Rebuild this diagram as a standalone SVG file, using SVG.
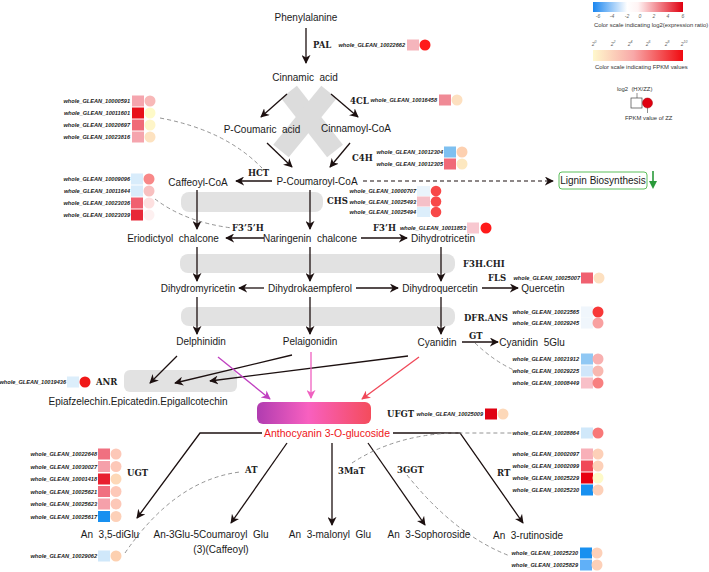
<svg xmlns="http://www.w3.org/2000/svg" width="709" height="572" viewBox="0 0 709 572">
<defs>
<style>
.t{font-family:"Liberation Sans",Arial,sans-serif;font-size:10px;fill:#1a1a1a;text-anchor:middle;dominant-baseline:central;white-space:pre}
.e{font-family:"DejaVu Serif",serif;font-weight:bold;font-size:8.5px;fill:#222;dominant-baseline:central}
.g{font-family:"Liberation Sans",Arial,sans-serif;font-weight:bold;font-style:italic;font-size:5.6px;fill:#222;text-anchor:end;dominant-baseline:central}
.lg{font-family:"Liberation Sans",Arial,sans-serif;font-size:5.9px;fill:#333;dominant-baseline:central;white-space:pre}
.tk{font-family:"Liberation Sans",Arial,sans-serif;font-style:italic;font-size:5px;fill:#666;text-anchor:middle;dominant-baseline:central}
.a{fill:none;stroke:#1c1010;stroke-width:1.3;marker-end:url(#ah)}
.d{fill:none;stroke:#888;stroke-width:0.9;stroke-dasharray:4 3}
.band{fill:#e2e2e2}
</style>
<marker id="ah" viewBox="0 0 10 10" refX="9" refY="5" markerWidth="9" markerHeight="9" markerUnits="userSpaceOnUse" orient="auto"><path d="M0,0 L10,5 L0,10 L3,5 Z" fill="#1c1010"/></marker>
<marker id="ahm" viewBox="0 0 10 10" refX="9" refY="5" markerWidth="9" markerHeight="9" markerUnits="userSpaceOnUse" orient="auto"><path d="M0,0 L10,5 L0,10 L3,5 Z" fill="#c040c0"/></marker>
<marker id="ahp" viewBox="0 0 10 10" refX="9" refY="5" markerWidth="9" markerHeight="9" markerUnits="userSpaceOnUse" orient="auto"><path d="M0,0 L10,5 L0,10 L3,5 Z" fill="#f060c0"/></marker>
<marker id="ahr" viewBox="0 0 10 10" refX="9" refY="5" markerWidth="9" markerHeight="9" markerUnits="userSpaceOnUse" orient="auto"><path d="M0,0 L10,5 L0,10 L3,5 Z" fill="#f04858"/></marker>
<linearGradient id="gl" x1="0" x2="1" y1="0" y2="0"><stop offset="0" stop-color="#1a86f0"/><stop offset="0.38" stop-color="#ffffff"/><stop offset="0.5" stop-color="#fff4f4"/><stop offset="1" stop-color="#e00010"/></linearGradient>
<linearGradient id="gf" x1="0" x2="1" y1="0" y2="0"><stop offset="0" stop-color="#fff8cc"/><stop offset="0.45" stop-color="#f8a8a8"/><stop offset="1" stop-color="#f00a10"/></linearGradient>
<linearGradient id="ga" x1="0" x2="1" y1="0" y2="0"><stop offset="0" stop-color="#b03cb0"/><stop offset="0.45" stop-color="#f860c0"/><stop offset="1" stop-color="#f44c5c"/></linearGradient>
</defs>
<rect width="709" height="572" fill="#ffffff"/>

<!-- background bands -->
<g id="bands">
<line x1="289" y1="92" x2="335" y2="151" stroke="#dcdcdc" stroke-width="20"/>
<line x1="329" y1="92" x2="281" y2="151" stroke="#dcdcdc" stroke-width="20"/>
<rect class="band" x="181" y="192" width="142" height="20" rx="8"/>
<rect class="band" x="180" y="254" width="275" height="19" rx="8"/>
<rect class="band" x="181" y="307" width="274" height="19" rx="8"/>
<rect class="band" x="124" y="370" width="113" height="22" rx="6"/>
<rect id="anthobar" x="257" y="402" width="114" height="22" rx="6" fill="url(#ga)"/>
</g>

<!-- connectors -->
<g id="connectors">
<line class="a" x1="306" y1="28" x2="306" y2="63"/>
<line class="a" x1="287" y1="94" x2="261" y2="117"/>
<line class="a" x1="331" y1="94" x2="358" y2="117"/>
<line class="a" x1="267" y1="143" x2="292" y2="167"/>
<line class="a" x1="350" y1="143" x2="330" y2="167"/>
<line class="a" x1="272" y1="181" x2="236" y2="181"/>
<line x1="363" y1="181" x2="553" y2="181" stroke="#1c1010" stroke-width="1.1" stroke-dasharray="4 3" marker-end="url(#ah)"/>
<line class="a" x1="310" y1="190" x2="310" y2="229"/>
<line class="a" x1="197" y1="190" x2="197" y2="229"/>
<line class="a" x1="264" y1="238" x2="226" y2="238"/>
<line class="a" x1="361" y1="238" x2="407" y2="238"/>
<line class="a" x1="197" y1="247" x2="197" y2="281"/>
<line class="a" x1="310" y1="247" x2="310" y2="281"/>
<line class="a" x1="441" y1="247" x2="441" y2="281"/>
<line class="a" x1="264" y1="288" x2="239" y2="288"/>
<line class="a" x1="356" y1="288" x2="398" y2="288"/>
<line class="a" x1="482" y1="288" x2="518" y2="288"/>
<line class="a" x1="197" y1="297" x2="197" y2="334"/>
<line class="a" x1="310" y1="297" x2="310" y2="334"/>
<line class="a" x1="441" y1="297" x2="441" y2="334"/>
<line class="a" x1="462" y1="342" x2="498" y2="342"/>
<line class="a" x1="177" y1="356" x2="150" y2="383"/>
<line class="a" x1="292" y1="355" x2="175" y2="383"/>
<line class="a" x1="408" y1="356" x2="210" y2="381"/>
<line x1="218" y1="357" x2="270" y2="399" stroke="#c040c0" stroke-width="1.3" marker-end="url(#ahm)"/>
<line x1="311" y1="352" x2="311" y2="398" stroke="#f060c0" stroke-width="1.3" marker-end="url(#ahp)"/>
<line x1="419" y1="357" x2="362" y2="399" stroke="#f04858" stroke-width="1.3" marker-end="url(#ahr)"/>
<polyline class="a" points="262,433 200,433 137,518"/>
<polyline class="a" points="393,433 460,433 523,523"/>
<line class="a" x1="287" y1="443" x2="231" y2="523"/>
<line class="a" x1="332" y1="443" x2="332" y2="525"/>
<line class="a" x1="368" y1="443" x2="425" y2="525"/>
<path class="d" d="M160,118 Q225,130 262,168"/>
<path class="d" d="M155,199 Q185,222 232,228"/>
<path class="d" d="M475,343 Q495,362 516,371"/>
<path class="d" d="M125,553 Q175,480 240,472"/>
<path class="d" d="M352,463 Q395,435 453,433 L512,433"/>
<path class="d" d="M407,475 Q455,535 510,556"/>
<line x1="653" y1="171" x2="653" y2="182" stroke="#2a9a3a" stroke-width="1.6"/>
<path d="M649,181 L657,181 L653,189 Z" fill="#2a9a3a"/>
</g>

<!-- compound nodes -->
<g id="n-phe"><text class="t" x="306" y="17">Phenylalanine</text></g>
<g id="n-cin"><text class="t" x="305" y="77">Cinnamic  acid</text></g>
<g id="n-pca"><text class="t" x="262" y="129">P-Coumaric  acid</text></g>
<g id="n-cco"><text class="t" x="356" y="128">Cinnamoyl-CoA</text></g>
<g id="n-pcco"><text class="t" x="317" y="181">P-Coumaroyl-CoA</text></g>
<g id="n-caf"><text class="t" x="198" y="182">Caffeoyl-CoA</text></g>
<g id="n-lig"><rect x="559" y="172" width="88" height="17" rx="3" fill="#fff" stroke="#5cbf5c" stroke-width="1"/><text class="t" x="603" y="180.5">Lignin Biosynthesis</text></g>
<g id="n-eri"><text class="t" x="173" y="238">Eriodictyol  chalcone</text></g>
<g id="n-nar"><text class="t" x="310" y="238">Naringenin  chalcone</text></g>
<g id="n-dht"><text class="t" x="443" y="238">Dihydrotricetin</text></g>
<g id="n-dhm"><text class="t" x="198" y="288">Dihydromyricetin</text></g>
<g id="n-dhk"><text class="t" x="310" y="288">Dihydrokaempferol</text></g>
<g id="n-dhq"><text class="t" x="440" y="288">Dihydroquercetin</text></g>
<g id="n-que"><text class="t" x="543" y="288">Quercetin</text></g>
<g id="n-del"><text class="t" x="201" y="341">Delphinidin</text></g>
<g id="n-pel"><text class="t" x="310" y="341">Pelaigonidin</text></g>
<g id="n-cya"><text class="t" x="437" y="342">Cyanidin</text></g>
<g id="n-cya5"><text class="t" x="532" y="342">Cyanidin  5Glu</text></g>
<g id="n-epi"><text class="t" x="138" y="401">Epiafzelechin.Epicatedin.Epigallcotechin</text></g>
<g id="n-antho"><text class="t" x="327" y="433" style="fill:#ee1520;font-size:10.5px">Anthocyanin 3-O-glucoside</text></g>
<g id="n-diglu"><text class="t" x="110" y="534">An  3,5-diGlu</text></g>
<g id="n-cou"><text class="t" x="211" y="534">An-3Glu-5Coumaroyl  Glu</text><text class="t" x="221" y="549">(3)(Caffeoyl)</text></g>
<g id="n-mal"><text class="t" x="330" y="534">An  3-malonyl  Glu</text></g>
<g id="n-sop"><text class="t" x="429" y="534">An  3-Sophoroside</text></g>
<g id="n-rut"><text class="t" x="528" y="535">An  3-rutinoside</text></g>

<!-- enzyme labels -->
<g id="enzymes">
<text class="e" x="313" y="45">PAL</text>
<text class="e" x="350" y="101">4CL</text>
<text class="e" x="352" y="158">C4H</text>
<text class="e" x="248" y="173">HCT</text>
<text class="e" x="327" y="201">CHS</text>
<text class="e" x="232" y="228">F3’5’H</text>
<text class="e" x="373" y="228">F3’H</text>
<text class="e" x="463" y="264">F3H.CHI</text>
<text class="e" x="488" y="278">FLS</text>
<text class="e" x="464" y="318">DFR.ANS</text>
<text class="e" x="469" y="336">GT</text>
<text class="e" x="96" y="382">ANR</text>
<text class="e" x="387" y="414">UFGT</text>
<text class="e" x="127" y="473">UGT</text>
<text class="e" x="245" y="470">AT</text>
<text class="e" x="338" y="471">3MaT</text>
<text class="e" x="397" y="470">3GGT</text>
<text class="e" x="497" y="473">RT</text>
</g>

<!-- gene expression markers -->
<g id="genes-pal"><text class="g" x="405" y="45">whole_GLEAN_10022662</text><rect x="407" y="39.5" width="12" height="11" fill="#f5b5bc"/><circle cx="425" cy="45" r="5.5" fill="#ff1a1a"/></g>
<g id="genes-4cl"><text class="g" x="437" y="100">whole_GLEAN_10016458</text><rect x="439" y="94.5" width="12" height="11" fill="#f08a96"/><circle cx="457" cy="100" r="5.5" fill="#fde0c0"/></g>
<g id="genes-hct">
<text class="g" x="130" y="101">whole_GLEAN_10000591</text><rect x="132" y="95.5" width="12" height="11" fill="#f5a5ae"/><circle cx="150" cy="101" r="5.5" fill="#f8b8b8"/>
<text class="g" x="130" y="113">whole_GLEAN_10011601</text><rect x="132" y="107.5" width="12" height="11" fill="#e8101a"/><circle cx="150" cy="113" r="5.5" fill="#fefac8"/>
<text class="g" x="130" y="125">whole_GLEAN_10020697</text><rect x="132" y="119.5" width="12" height="11" fill="#f06a78"/><circle cx="150" cy="125" r="5.5" fill="#fef5c8"/>
<text class="g" x="130" y="137">whole_GLEAN_10023816</text><rect x="132" y="131.5" width="12" height="11" fill="#f5a5ae"/><circle cx="150" cy="137" r="5.5" fill="#fde2c0"/>
</g>
<g id="genes-c4h">
<text class="g" x="443" y="152">whole_GLEAN_10012304</text><rect x="444" y="146.5" width="12" height="11" fill="#7ec0f0"/><circle cx="462" cy="152" r="5.5" fill="#fdd0b0"/>
<text class="g" x="443" y="164">whole_GLEAN_10012305</text><rect x="444" y="158.5" width="12" height="11" fill="#f06a78"/><circle cx="462" cy="164" r="5.5" fill="#fde8c0"/>
</g>
<g id="genes-chs">
<text class="g" x="416" y="191">whole_GLEAN_10000707</text><rect x="417" y="186" width="13" height="10" fill="#eaf4fc"/><circle cx="436" cy="191" r="5.3" fill="#f84848"/>
<text class="g" x="416" y="201.5">whole_GLEAN_10025493</text><rect x="417" y="196.5" width="13" height="10" fill="#f5c0c8"/><circle cx="436" cy="201.5" r="5.3" fill="#f84848"/>
<text class="g" x="416" y="212">whole_GLEAN_10025494</text><rect x="417" y="207" width="13" height="10" fill="#dceefb"/><circle cx="436" cy="212" r="5.3" fill="#f84848"/>
</g>
<g id="genes-f3h"><text class="g" x="466" y="228">whole_GLEAN_10011853</text><rect x="467" y="222.5" width="12" height="11" fill="#f8c8d0"/><circle cx="486" cy="228" r="5.5" fill="#ff1a1a"/></g>
<g id="genes-f35h">
<text class="g" x="130" y="179">whole_GLEAN_10009096</text><rect x="131" y="173.5" width="12" height="11" fill="#d8ecfb"/><circle cx="149" cy="179" r="5.5" fill="#f88888"/>
<text class="g" x="130" y="191">whole_GLEAN_10011644</text><rect x="131" y="185.5" width="12" height="11" fill="#d8ecfb"/><circle cx="149" cy="191" r="5.5" fill="#f8c0c0"/>
<text class="g" x="130" y="203">whole_GLEAN_10023036</text><rect x="131" y="197.5" width="12" height="11" fill="#f06070"/><circle cx="149" cy="203" r="5.5" fill="#fde0e0"/>
<text class="g" x="130" y="215">whole_GLEAN_10023039</text><rect x="131" y="209.5" width="12" height="11" fill="#e82838"/><circle cx="149" cy="215" r="5.5" fill="#fdf0f0"/>
</g>
<g id="genes-fls"><text class="g" x="580" y="278">whole_GLEAN_10025007</text><rect x="581" y="272.5" width="12" height="11" fill="#f06070"/><circle cx="599" cy="278" r="5.5" fill="#fde0c0"/></g>
<g id="genes-dfr">
<text class="g" x="579" y="312">whole_GLEAN_10023565</text><rect x="581" y="306.5" width="12" height="11" fill="#f0f6fc"/><circle cx="598" cy="312" r="5.5" fill="#f83838"/>
<text class="g" x="579" y="323">whole_GLEAN_10029245</text><rect x="581" y="317.5" width="12" height="11" fill="#f0f6fc"/><circle cx="598" cy="323" r="5.5" fill="#f8a0a0"/>
</g>
<g id="genes-gt">
<text class="g" x="579" y="359">whole_GLEAN_10021912</text><rect x="581" y="353.5" width="12" height="11" fill="#90c8f4"/><circle cx="598" cy="359" r="5.5" fill="#f8b0b0"/>
<text class="g" x="579" y="371">whole_GLEAN_10029225</text><rect x="581" y="365.5" width="12" height="11" fill="#d0e6fa"/><circle cx="598" cy="371" r="5.5" fill="#f8b8b0"/>
<text class="g" x="579" y="383">whole_GLEAN_10008449</text><rect x="581" y="377.5" width="12" height="11" fill="#f8c0c8"/><circle cx="598" cy="383" r="5.5" fill="#f88080"/>
</g>
<g id="genes-anr"><text class="g" x="66" y="382">whole_GLEAN_10019436</text><rect x="67" y="376.5" width="12" height="11" fill="#dceefb"/><circle cx="85" cy="382" r="5.5" fill="#f01818"/></g>
<g id="genes-ufgt"><text class="g" x="483" y="414">whole_GLEAN_10025009</text><rect x="485" y="408.5" width="12" height="11" fill="#e00010"/><circle cx="503" cy="414" r="5.5" fill="#fdd8b8"/></g>
<g id="genes-3mat"><text class="g" x="579" y="433">whole_GLEAN_10028864</text><rect x="581" y="427.5" width="12" height="11" fill="#d0e8fa"/><circle cx="598" cy="433" r="5.5" fill="#f87878"/></g>
<g id="genes-rt">
<text class="g" x="579" y="454">whole_GLEAN_10002097</text><rect x="581" y="448.5" width="12" height="11" fill="#f8b0b8"/><circle cx="598" cy="454" r="5.5" fill="#fdd0b8"/>
<text class="g" x="579" y="466">whole_GLEAN_10002099</text><rect x="581" y="460.5" width="12" height="11" fill="#f04858"/><circle cx="598" cy="466" r="5.5" fill="#fdd0b8"/>
<text class="g" x="579" y="478">whole_GLEAN_10025229</text><rect x="581" y="472.5" width="12" height="11" fill="#e80010"/><circle cx="598" cy="478" r="5.5" fill="#fefac8"/>
<text class="g" x="579" y="490">whole_GLEAN_10025230</text><rect x="581" y="484.5" width="12" height="11" fill="#1890f0"/><circle cx="598" cy="490" r="5.5" fill="#fdd0b8"/>
</g>
<g id="genes-3ggt">
<text class="g" x="578" y="553">whole_GLEAN_10025230</text><rect x="580" y="547.5" width="12" height="11" fill="#1890f0"/><circle cx="597" cy="553" r="5.5" fill="#fdd0b8"/>
<text class="g" x="578" y="565">whole_GLEAN_10025829</text><rect x="580" y="559.5" width="12" height="11" fill="#60b0f8"/><circle cx="597" cy="565" r="5.5" fill="#fdd0b8"/>
</g>
<g id="genes-ugt">
<text class="g" x="97" y="454">whole_GLEAN_10022648</text><rect x="98" y="448.5" width="12" height="11" fill="#f07080"/><circle cx="116" cy="454" r="5.5" fill="#fdc8b8"/>
<text class="g" x="97" y="466.5">whole_GLEAN_10030027</text><rect x="98" y="461" width="12" height="11" fill="#f5a0aa"/><circle cx="116" cy="466.5" r="5.5" fill="#fdc8b8"/>
<text class="g" x="97" y="479">whole_GLEAN_10001418</text><rect x="98" y="473.5" width="12" height="11" fill="#e82030"/><circle cx="116" cy="479" r="5.5" fill="#fdd8b8"/>
<text class="g" x="97" y="491.5">whole_GLEAN_10025621</text><rect x="98" y="486" width="12" height="11" fill="#f07080"/><circle cx="116" cy="491.5" r="5.5" fill="#fdc8b8"/>
<text class="g" x="97" y="504">whole_GLEAN_10025623</text><rect x="98" y="498.5" width="12" height="11" fill="#f5a0aa"/><circle cx="116" cy="504" r="5.5" fill="#fdc8b8"/>
<text class="g" x="97" y="516.5">whole_GLEAN_10025617</text><rect x="98" y="511" width="12" height="11" fill="#1890f0"/><circle cx="116" cy="516.5" r="5.5" fill="#fdd0b8"/>
</g>
<g id="genes-at"><text class="g" x="97" y="556">whole_GLEAN_10029062</text><rect x="98" y="550.5" width="12" height="11" fill="#d0e8fa"/><circle cx="116" cy="556" r="5.5" fill="#fdd0b0"/></g>

<!-- legend -->
<g id="legend">
<rect x="593" y="2" width="90" height="10" fill="url(#gl)"/>
<text class="tk" x="598" y="16">-6</text><text class="tk" x="612" y="16">-4</text><text class="tk" x="627" y="16">-2</text><text class="tk" x="640" y="16">0</text><text class="tk" x="654" y="16">2</text><text class="tk" x="668" y="16">4</text><text class="tk" x="683" y="16">6</text>
<text class="lg" x="594" y="24.5">Color scale indicating log2(expression ratio)</text>
<text class="tk" x="594" y="44">2<tspan dy="-2" font-size="3.5">0</tspan></text>
<text class="tk" x="613" y="44">2<tspan dy="-2" font-size="3.5">2</tspan></text>
<text class="tk" x="630" y="44">2<tspan dy="-2" font-size="3.5">4</tspan></text>
<text class="tk" x="648" y="44">2<tspan dy="-2" font-size="3.5">6</tspan></text>
<text class="tk" x="667" y="44">2<tspan dy="-2" font-size="3.5">8</tspan></text>
<text class="tk" x="684" y="44">2<tspan dy="-2" font-size="3.5">10</tspan></text>
<rect x="593" y="50" width="90" height="11" fill="url(#gf)"/>
<text class="lg" x="595" y="66.5">Color scale indicating FPKM values</text>
<text class="lg" x="617" y="89">log2  (HX/ZZ)</text>
<line x1="637" y1="93" x2="637" y2="98" stroke="#444" stroke-width="0.6"/>
<rect x="631" y="98" width="11" height="10" fill="#fff" stroke="#444" stroke-width="0.7"/>
<circle cx="647.5" cy="103" r="5" fill="#e00010" stroke="#a00008" stroke-width="0.5"/>
<line x1="647.5" y1="108" x2="647.5" y2="113" stroke="#444" stroke-width="0.6"/>
<text class="lg" x="625" y="118">FPKM value of ZZ</text>
</g>
</svg>
